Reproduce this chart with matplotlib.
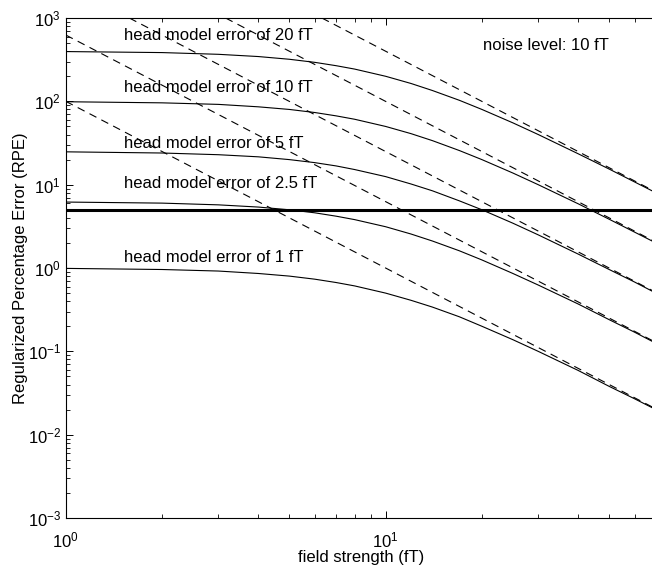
import matplotlib
matplotlib.use("Agg")
import matplotlib.pyplot as plt

plt.rcParams["font.family"] = ["Liberation Sans", "DejaVu Sans"]
plt.rcParams["mathtext.fontset"] = "custom"
plt.rcParams["mathtext.rm"] = "Liberation Sans"

# field strength samples (fT) where the solid curves were read
field = [1, 2, 3, 4, 5, 6, 7, 8, 10, 12, 14, 17, 20, 25, 30, 40, 50, 60, 70]

# solid curves: RPE with noise level 10 fT
rpe_20 = [396, 385, 367, 345, 320, 294, 268, 244, 200, 164, 135, 103, 80, 55.2, 40, 23.5, 15.4, 10.8, 8.0]
rpe_10 = [99, 96, 92, 86, 80, 73.5, 67, 61, 50, 41, 33.8, 25.7, 20, 13.8, 10, 5.9, 3.85, 2.7, 2.0]
rpe_5 = [24.8, 24.0, 22.9, 21.6, 20, 18.4, 16.8, 15.2, 12.5, 10.2, 8.45, 6.4, 5.0, 3.45, 2.5, 1.47, 0.96, 0.68, 0.50]
rpe_2_5 = [6.19, 6.01, 5.73, 5.39, 5.0, 4.6, 4.19, 3.81, 3.13, 2.56, 2.11, 1.61, 1.25, 0.86, 0.625, 0.37, 0.24, 0.17, 0.125]
rpe_1 = [0.99, 0.96, 0.92, 0.86, 0.80, 0.735, 0.67, 0.61, 0.50, 0.41, 0.34, 0.26, 0.20, 0.138, 0.10, 0.059, 0.038, 0.027, 0.020]
solid_curves = [rpe_20, rpe_10, rpe_5, rpe_2_5, rpe_1]

# dashed asymptotes (straight on log-log): start and end points
dash_x = [[6.32, 70], [3.16, 70], [1.58, 70], [1, 70], [1, 70]]
dash_y = [[1000, 8.16], [1000, 2.04], [1000, 0.51], [625, 0.128], [100, 0.0204]]

threshold = 5

labels = [
    "head model error of 20 fT",
    "head model error of 10 fT",
    "head model error of 5 fT",
    "head model error of 2.5 fT",
    "head model error of 1 fT",
]
label_y = [625, 145, 31, 10.4, 1.35]

fig = plt.figure(figsize=(6.52, 5.69), dpi=100)
ax = fig.add_axes([0.101, 0.0896, 0.905, 0.8787])

for curve in solid_curves:
    ax.plot(field, curve, color="black", lw=0.8)
for xs, ys in zip(dash_x, dash_y):
    ax.plot(xs, ys, color="black", lw=0.8, dashes=(7, 5))
ax.axhline(threshold, color="black", lw=2.2)

for text, y in zip(labels, label_y):
    ax.text(1.52, y, text, fontsize=12, va="center", ha="left")
ax.text(20.1, 474, "noise level: 10 fT", fontsize=12, va="center", ha="left")

ax.set_xscale("log")
ax.set_yscale("log")
ax.set_xlim(1, 70)
ax.set_ylim(1e-3, 1e3)
ax.spines["right"].set_visible(False)
ax.tick_params(which="both", direction="in", top=True, right=False, labelsize=12)
ax.tick_params(which="major", length=5, width=0.7)
ax.tick_params(which="minor", length=3, width=0.6)
ax.tick_params(axis="x", which="major", pad=9)
ax.set_xlabel("field strength (fT)", fontsize=12, labelpad=0)
ax.set_ylabel("Regularized Percentage Error (RPE)", fontsize=12, labelpad=0)

fig.savefig("out.png", dpi=100)
